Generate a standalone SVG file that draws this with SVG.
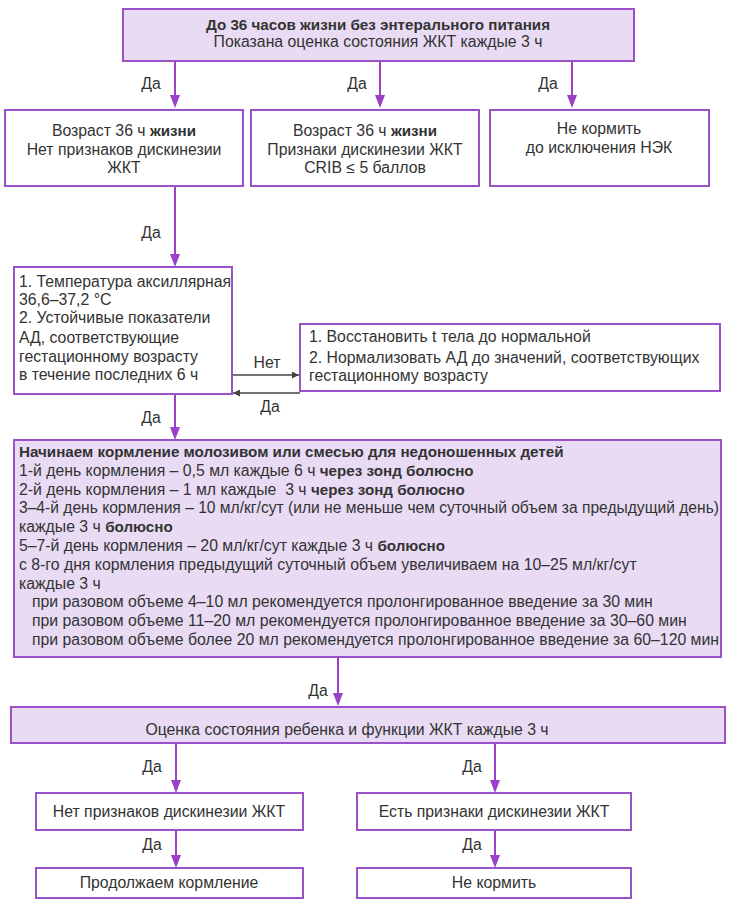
<svg xmlns="http://www.w3.org/2000/svg" width="735" height="905" viewBox="0 0 735 905">
<style>
text{font-family:"Liberation Sans",Arial,sans-serif;font-size:15.8px;fill:#333}
.c{text-anchor:middle}
.b{font-weight:bold;font-size:15.2px}
.box{fill:#fff;stroke:#9b52c8;stroke-width:2}
.fill{fill:#e8dbf3;stroke:#9b52c8;stroke-width:2}
.arr{stroke:#9b40c8;stroke-width:2;fill:none}
.dark{stroke:#444;stroke-width:1.3;fill:none}
.head{fill:#9b40c8}
</style>
<defs>
<marker id="ahd" markerWidth="7" markerHeight="7" refX="7" refY="3.5" orient="auto" markerUnits="userSpaceOnUse">
<path d="M0,0 L7,3.5 L0,7 Z" fill="#444"/>
</marker>
</defs>
<rect width="735" height="905" fill="#fff"/>
<g id="connectors">
<line class="arr" x1="175" y1="61" x2="175" y2="95"/><path class="head" d="M170,95 L180,95 L175,108 Z"/>
<line class="arr" x1="380" y1="61" x2="380" y2="95"/><path class="head" d="M375,95 L385,95 L380,108 Z"/>
<line class="arr" x1="572" y1="61" x2="572" y2="95"/><path class="head" d="M567,95 L577,95 L572,108 Z"/>
<line class="arr" x1="175" y1="186" x2="175" y2="254"/><path class="head" d="M170,254 L180,254 L175,267 Z"/>
<line class="arr" x1="175" y1="394" x2="175" y2="427"/><path class="head" d="M170,427 L180,427 L175,440 Z"/>
<line class="arr" x1="338" y1="657" x2="338" y2="693"/><path class="head" d="M333,693 L343,693 L338,706 Z"/>
<line class="arr" x1="176" y1="743" x2="176" y2="780"/><path class="head" d="M171,780 L181,780 L176,793 Z"/>
<line class="arr" x1="495" y1="743" x2="495" y2="780"/><path class="head" d="M490,780 L500,780 L495,793 Z"/>
<line class="arr" x1="176" y1="830" x2="176" y2="855"/><path class="head" d="M171,855 L181,855 L176,868 Z"/>
<line class="arr" x1="495" y1="830" x2="495" y2="855"/><path class="head" d="M490,855 L500,855 L495,868 Z"/>
<line class="dark" x1="232" y1="375" x2="299" y2="375" marker-end="url(#ahd)"/>
<line class="dark" x1="300" y1="393" x2="233" y2="393" marker-end="url(#ahd)"/>
<text x="151" y="89" class="c">Да</text>
<text x="357" y="89" class="c">Да</text>
<text x="548" y="89" class="c">Да</text>
<text x="151" y="238" class="c">Да</text>
<text x="267" y="368" class="c">Нет</text>
<text x="270" y="412" class="c">Да</text>
<text x="151" y="423" class="c">Да</text>
<text x="318" y="696" class="c">Да</text>
<text x="152" y="772" class="c">Да</text>
<text x="472" y="772" class="c">Да</text>
<text x="152" y="850" class="c">Да</text>
<text x="472" y="850" class="c">Да</text>
</g>
<g id="n_top">
<rect class="fill" x="123" y="9" width="511" height="52"/>
<text x="378" y="30" class="c b">До 36 часов жизни без энтерального питания</text>
<text x="378" y="47" class="c">Показана оценка состояния ЖКТ каждые 3 ч</text>
</g>
<g id="n_age1">
<rect class="box" x="5" y="110" width="238" height="76"/>
<text x="124" y="136" class="c">Возраст 36 ч <tspan class="b">жизни</tspan></text>
<text x="124" y="155" class="c">Нет признаков дискинезии</text>
<text x="124" y="173" class="c">ЖКТ</text>
</g>
<g id="n_age2">
<rect class="box" x="251" y="110" width="228" height="76"/>
<text x="365" y="136" class="c">Возраст 36 ч <tspan class="b">жизни</tspan></text>
<text x="365" y="155" class="c">Признаки дискинезии ЖКТ</text>
<text x="365" y="173" class="c">CRIB ≤ 5 баллов</text>
</g>
<g id="n_nofeed1">
<rect class="box" x="490" y="110" width="219" height="76"/>
<text x="599" y="134" class="c">Не кормить</text>
<text x="599" y="153" class="c">до исключения НЭК</text>
</g>
<g id="n_cond">
<rect class="box" x="14" y="267" width="218" height="127"/>
<text x="19" y="287">1. Температура аксиллярная</text>
<text x="19" y="305">36,6–37,2 °C</text>
<text x="19" y="323">2. Устойчивые показатели</text>
<text x="19" y="343">АД, соответствующие</text>
<text x="19" y="362">гестационному возрасту</text>
<text x="19" y="380">в течение последних 6 ч</text>
</g>
<g id="n_restore">
<rect class="box" x="300" y="324" width="420" height="67"/>
<text x="309" y="342">1. Восстановить t тела до нормальной</text>
<text x="309" y="363">2. Нормализовать АД до значений, соответствующих</text>
<text x="309" y="381">гестационному возрасту</text>
</g>
<g id="n_feed">
<rect class="fill" x="14" y="440" width="707" height="217"/>
<text x="19" y="457" class="b">Начинаем кормление молозивом или смесью для недоношенных детей</text>
<text x="19" y="476">1-й день кормления – 0,5 мл каждые 6 ч <tspan class="b">через зонд болюсно</tspan></text>
<text x="19" y="495" xml:space="preserve">2-й день кормления – 1 мл каждые  3 ч <tspan class="b">через зонд болюсно</tspan></text>
<text x="19" y="513" textLength="700" lengthAdjust="spacingAndGlyphs">3–4-й день кормления – 10 мл/кг/сут (или не меньше чем суточный объем за предыдущий день)</text>
<text x="19" y="532">каждые 3 ч <tspan class="b">болюсно</tspan></text>
<text x="19" y="551">5–7-й день кормления – 20 мл/кг/сут каждые 3 ч <tspan class="b">болюсно</tspan></text>
<text x="19" y="570">с 8-го дня кормления предыдущий суточный объем увеличиваем на 10–25 мл/кг/сут</text>
<text x="19" y="589">каждые 3 ч</text>
<text x="32" y="607">при разовом объеме 4–10 мл рекомендуется пролонгированное введение за 30 мин</text>
<text x="32" y="626">при разовом объеме 11–20 мл рекомендуется пролонгированное введение за 30–60 мин</text>
<text x="32" y="645">при разовом объеме более 20 мл рекомендуется пролонгированное введение за 60–120 мин</text>
</g>
<g id="n_assess">
<rect class="fill" x="11" y="707" width="714" height="36"/>
<text x="347" y="735" class="c">Оценка состояния ребенка и функции ЖКТ каждые 3 ч</text>
</g>
<g id="n_nosigns">
<rect class="box" x="36" y="793" width="267" height="37"/>
<text x="169" y="817" class="c">Нет признаков дискинезии ЖКТ</text>
</g>
<g id="n_signs">
<rect class="box" x="357" y="793" width="274" height="37"/>
<text x="494" y="817" class="c">Есть признаки дискинезии ЖКТ</text>
</g>
<g id="n_continue">
<rect class="box" x="36" y="868" width="267" height="30"/>
<text x="169" y="888" class="c">Продолжаем кормление</text>
</g>
<g id="n_nofeed2">
<rect class="box" x="357" y="868" width="274" height="30"/>
<text x="494" y="888" class="c">Не кормить</text>
</g>
</svg>
